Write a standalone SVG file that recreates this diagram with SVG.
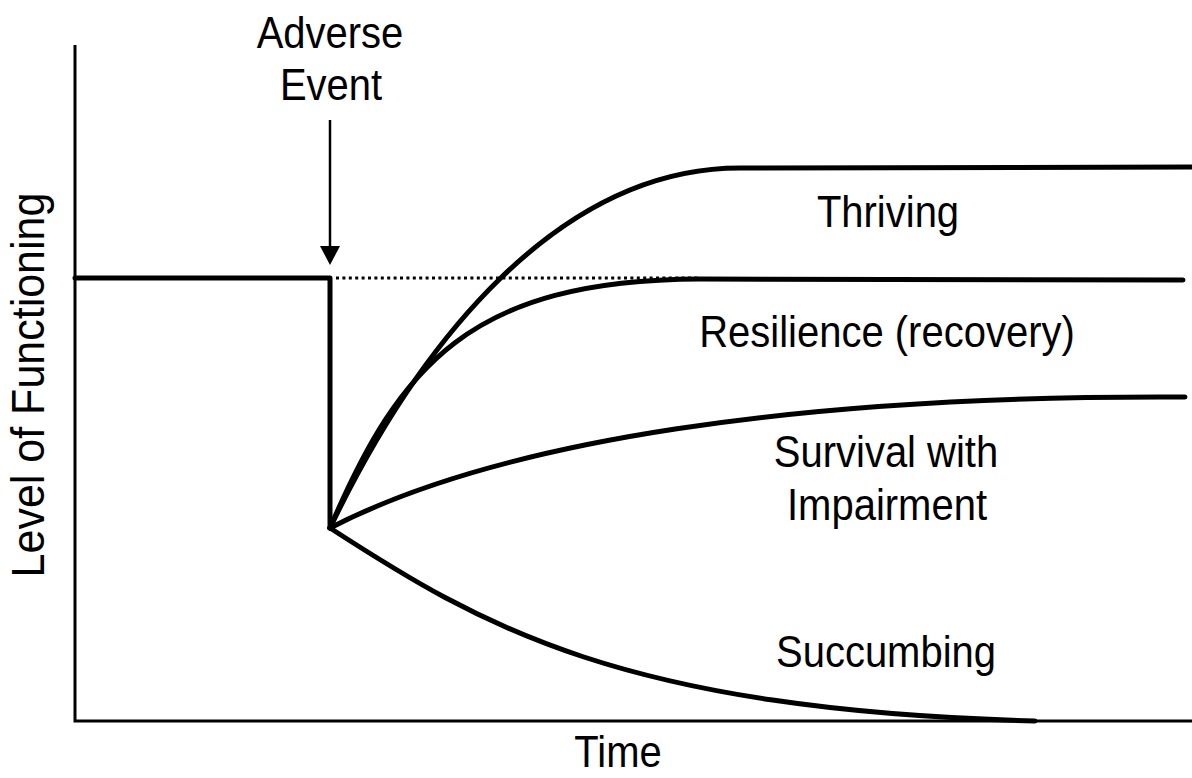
<svg xmlns="http://www.w3.org/2000/svg" width="1192" height="778" viewBox="0 0 1192 778">
<style>
  text { font-family: "Liberation Sans", Arial, sans-serif; font-size: 40px; fill: #000; text-anchor: middle; }
  .axis { stroke: #000; stroke-width: 3; fill: none; }
  .curve { stroke: #000; stroke-width: 5; fill: none; stroke-linecap: round; stroke-linejoin: round; }
  .dot { stroke: #000; stroke-width: 3; fill: none; stroke-dasharray: 3 3.4; }
  .arrow { stroke: #000; stroke-width: 2.5; fill: none; }
</style>
<rect width="1192" height="778" fill="#fff"/>
<g id="axes">
  <polyline class="axis" points="75,45 75,721 1192,721"/>
  <text id="y-label" x="0" y="0" transform="translate(44,385) rotate(-90) scale(1,1.08)" style="font-size:43px">Level of Functioning</text>
  <text id="x-label" x="0" y="0" transform="translate(618,767) scale(1,1.1)">Time</text>
</g>
<g id="adverse-event">
  <text x="0" y="0" transform="translate(330,48) scale(1,1.1)">Adverse</text>
  <text x="0" y="0" transform="translate(331,100) scale(1,1.1)">Event</text>
</g>
<g id="connectors">
  <line class="arrow" x1="330" y1="120" x2="330" y2="250"/>
  <polygon points="320,246 340,246 330,265" fill="#000"/>
  <line class="dot" x1="336" y1="278" x2="700" y2="278"/>
  <polyline class="curve" points="75,278 330,278 330,528"/>
  <path id="thriving-curve" class="curve" d="M330,528 C420,340 560,168 740,168 L1192,167"/>
  <path id="resilience-curve" class="curve" d="M330,528 C400,365 470,280 700,279 L1183,280"/>
  <path id="survival-curve" class="curve" d="M330,528 C500,440 800,395 1185,397"/>
  <path id="succumbing-curve" class="curve" d="M330,528 C480,625 620,710 1035,721"/>
</g>
<g id="thriving"><text x="0" y="0" transform="translate(888,227) scale(1,1.1)">Thriving</text></g>
<g id="resilience"><text x="0" y="0" transform="translate(887,347) scale(1,1.1)">Resilience (recovery)</text></g>
<g id="survival"><text x="0" y="0" transform="translate(886,467) scale(1,1.1)">Survival with</text><text x="0" y="0" transform="translate(887,520) scale(1,1.1)">Impairment</text></g>
<g id="succumbing"><text x="0" y="0" transform="translate(886,667) scale(1,1.1)">Succumbing</text></g>
</svg>
